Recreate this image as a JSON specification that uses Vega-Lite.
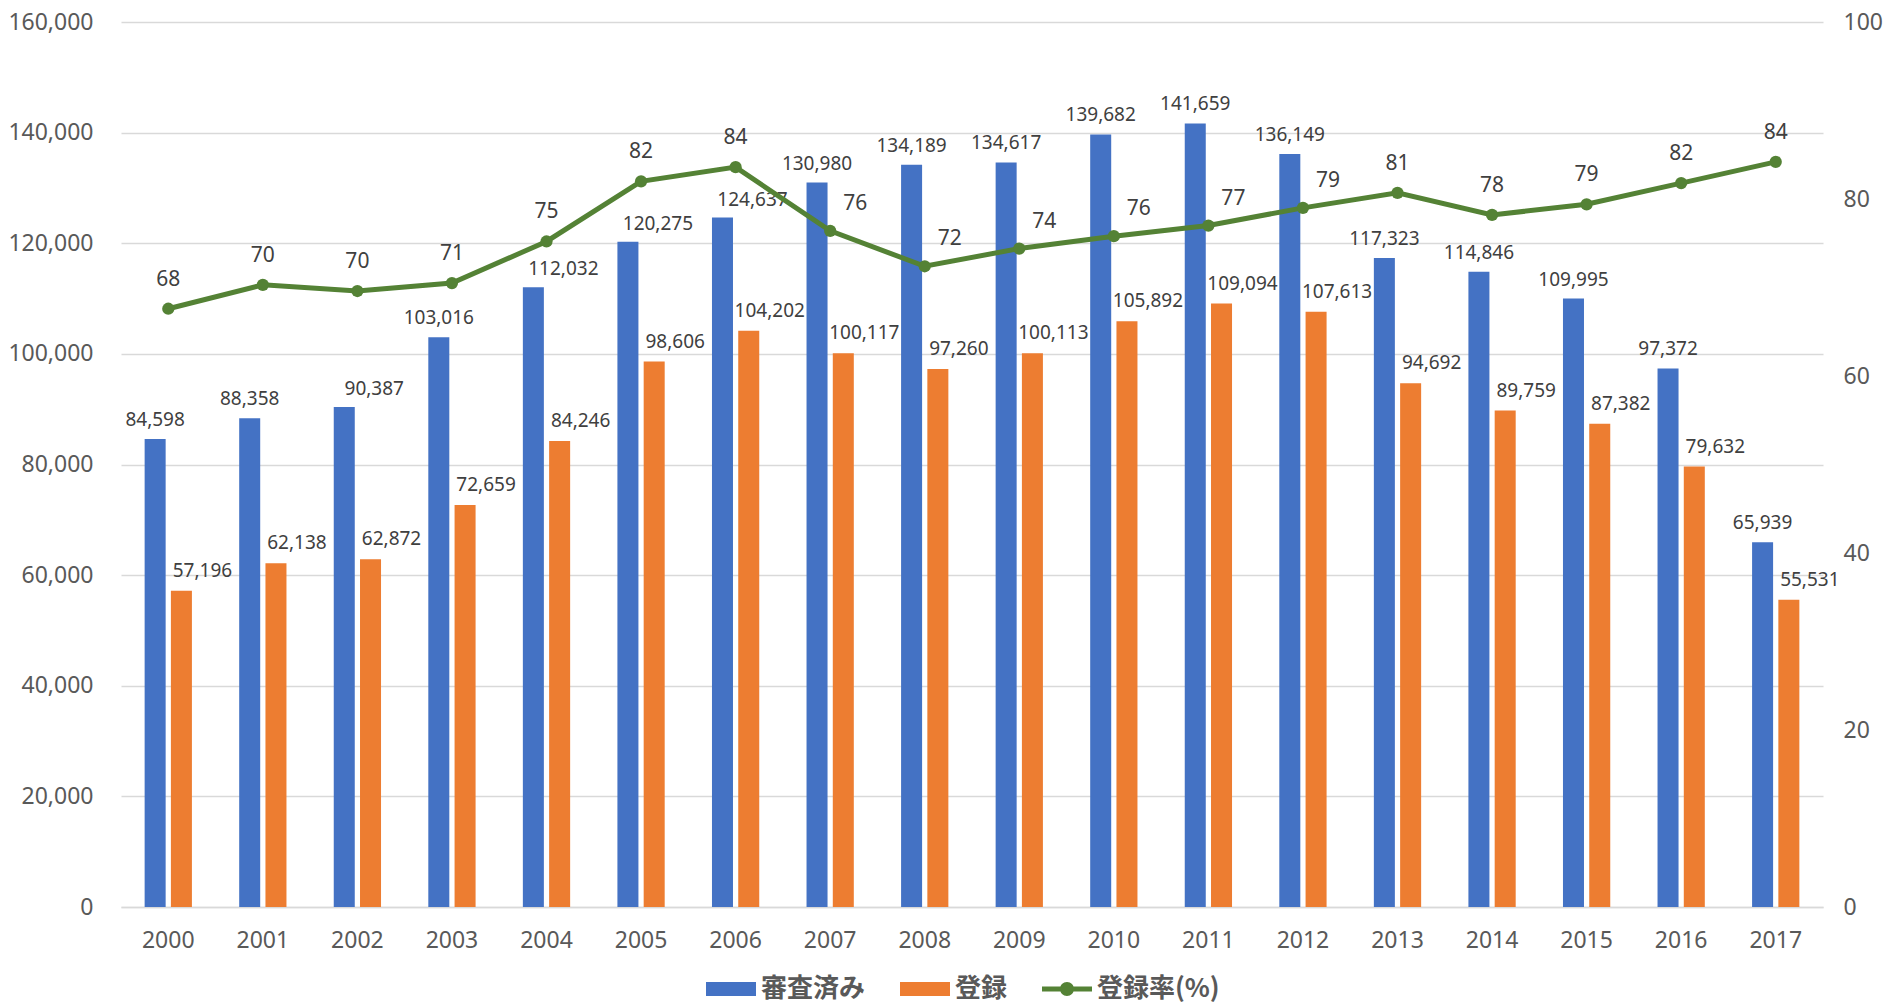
{
  "$schema": "https://vega.github.io/schema/vega-lite/v6.json",
  "width": 1702,
  "height": 885,
  "autosize": {"type": "none"},
  "padding": {"left": 121, "top": 22, "right": 62, "bottom": 96},
  "background": "white",
  "config": {
    "view": {"stroke": null},
    "font": "Noto Sans",
    "axis": {
      "labelFont": "Noto Sans",
      "labelFontSize": 23,
      "labelColor": "#595959",
      "ticks": false,
      "title": null
    }
  },
  "data": {
    "values": [
      {"year": "2000", "審査済み": 84598, "登録": 57196, "登録率": 67.6},
      {"year": "2001", "審査済み": 88358, "登録": 62138, "登録率": 70.3},
      {"year": "2002", "審査済み": 90387, "登録": 62872, "登録率": 69.6},
      {"year": "2003", "審査済み": 103016, "登録": 72659, "登録率": 70.5},
      {"year": "2004", "審査済み": 112032, "登録": 84246, "登録率": 75.2},
      {"year": "2005", "審査済み": 120275, "登録": 98606, "登録率": 82.0},
      {"year": "2006", "審査済み": 124637, "登録": 104202, "登録率": 83.6},
      {"year": "2007", "審査済み": 130980, "登録": 100117, "登録率": 76.4},
      {"year": "2008", "審査済み": 134189, "登録": 97260, "登録率": 72.4},
      {"year": "2009", "審査済み": 134617, "登録": 100113, "登録率": 74.4},
      {"year": "2010", "審査済み": 139682, "登録": 105892, "登録率": 75.8},
      {"year": "2011", "審査済み": 141659, "登録": 109094, "登録率": 77.0},
      {"year": "2012", "審査済み": 136149, "登録": 107613, "登録率": 79.0},
      {"year": "2013", "審査済み": 117323, "登録": 94692, "登録率": 80.7},
      {"year": "2014", "審査済み": 114846, "登録": 89759, "登録率": 78.2},
      {"year": "2015", "審査済み": 109995, "登録": 87382, "登録率": 79.4},
      {"year": "2016", "審査済み": 97372, "登録": 79632, "登録率": 81.8},
      {"year": "2017", "審査済み": 65939, "登録": 55531, "登録率": 84.2}
    ]
  },
  "encoding": {
    "x": {
      "field": "year",
      "type": "ordinal",
      "scale": {"paddingInner": 0.5, "paddingOuter": 0.25},
      "axis": {
        "labelAngle": 0,
        "labelPadding": 22,
        "domainColor": "#D9D9D9",
        "domainWidth": 1.5
      }
    }
  },
  "layer": [
    {
      "transform": [{"fold": ["審査済み", "登録"], "as": ["series", "value"]}],
      "encoding": {
        "xOffset": {
          "field": "series",
          "type": "nominal",
          "scale": {"domain": ["審査済み", "登録"], "paddingInner": 0.2}
        },
        "y": {
          "field": "value",
          "type": "quantitative",
          "scale": {"domain": [0, 160000], "nice": false},
          "axis": {
            "values": [0, 20000, 40000, 60000, 80000, 100000, 120000, 140000, 160000],
            "labelExpr": "format(datum.value, ',')",
            "grid": true,
            "gridColor": "#D9D9D9",
            "gridWidth": 1.5,
            "domain": false,
            "labelPadding": 28
          }
        }
      },
      "layer": [
        {
          "mark": {"type": "bar"},
          "encoding": {
            "color": {
              "field": "series",
              "type": "nominal",
              "scale": {
                "domain": ["審査済み", "登録", "登録率(%)"],
                "range": ["#4472C4", "#ED7D31", "#548235"]
              },
              "legend": {
                "title": null,
                "orient": "none",
                "legendX": 585,
                "legendY": 942,
                "direction": "horizontal",
                "padding": 0,
                "symbolSize": 2500,
                "symbolStrokeWidth": 0,
                "labelOffset": 5,
                "columnPadding": 34,
                "labelFont": "Noto Sans CJK JP",
                "labelFontSize": 26,
                "labelFontWeight": "bold",
                "labelColor": "#595959",
                "labelLimit": 400,
                "encode": {
                  "symbols": {
                    "update": {
                      "shape": {
                        "signal": "datum.value === '登録率(%)' ? 'M-1,-0.1H1V0.1H-1Z M0.28,0A0.28,0.28 0 1 1 -0.28,0A0.28,0.28 0 1 1 0.28,0Z' : 'M-1,-0.28H1V0.28H-1Z'"
                      }
                    }
                  }
                }
              }
            }
          }
        },
        {
          "transform": [
            {"filter": "datum.series === '審査済み' && indexof(['2002', '2004', '2005', '2006'], datum.year) < 0"}
          ],
          "mark": {"type": "text", "baseline": "alphabetic", "dy": -13, "fontSize": 19, "color": "#404040"},
          "encoding": {"text": {"field": "value", "type": "quantitative", "format": ","}}
        },
        {
          "transform": [
            {"filter": "datum.series === '審査済み' && indexof(['2002', '2004', '2005', '2006'], datum.year) >= 0"}
          ],
          "mark": {"type": "text", "baseline": "alphabetic", "dx": 30, "dy": -12, "fontSize": 19, "color": "#404040"},
          "encoding": {"text": {"field": "value", "type": "quantitative", "format": ","}}
        },
        {
          "transform": [{"filter": "datum.series === '登録'"}],
          "mark": {"type": "text", "baseline": "alphabetic", "dx": 21, "dy": -14, "fontSize": 19, "color": "#404040"},
          "encoding": {"text": {"field": "value", "type": "quantitative", "format": ","}}
        }
      ]
    },
    {
      "encoding": {
        "y": {
          "field": "登録率",
          "type": "quantitative",
          "scale": {"domain": [0, 100], "nice": false},
          "axis": {
            "orient": "right",
            "values": [0, 20, 40, 60, 80, 100],
            "grid": false,
            "domain": false,
            "labelPadding": 20
          }
        }
      },
      "layer": [
        {"mark": {"type": "line", "color": "#548235", "strokeWidth": 5}},
        {"mark": {"type": "circle", "color": "#548235", "size": 150, "opacity": 1}},
        {
          "transform": [{"filter": "indexof(['2007', '2008', '2009', '2010', '2011', '2012'], datum.year) < 0"}],
          "mark": {"type": "text", "baseline": "alphabetic", "dy": -23, "fontSize": 21, "color": "#404040"},
          "encoding": {"text": {"field": "登録率", "type": "quantitative", "format": ".0f"}}
        },
        {
          "transform": [{"filter": "indexof(['2007', '2008', '2009', '2010', '2011', '2012'], datum.year) >= 0"}],
          "mark": {"type": "text", "baseline": "alphabetic", "dx": 25, "dy": -21, "fontSize": 21, "color": "#404040"},
          "encoding": {"text": {"field": "登録率", "type": "quantitative", "format": ".0f"}}
        }
      ]
    }
  ],
  "resolve": {"scale": {"y": "independent"}}
}
